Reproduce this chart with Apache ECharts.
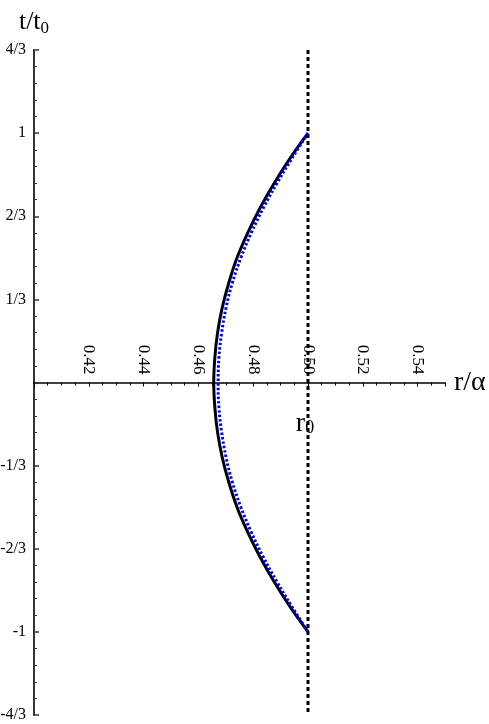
<!DOCTYPE html>
<html>
<head>
<meta charset="utf-8">
<script src="https://cdn.jsdelivr.net/npm/echarts@6/dist/echarts.min.js"></script>
<style>
  html, body { margin: 0; padding: 0; background: #fff; }
  #main { width: 489px; height: 724px; }
</style>
</head>
<body>
<div id="main"></div>
<script>
// t/t0 samples, top to bottom
var tValues = [1.0, 0.9, 0.8, 0.7, 0.6, 0.5, 0.4, 0.3, 0.2, 0.1, 0.0,
               -0.1, -0.2, -0.3, -0.4, -0.5, -0.6, -0.7, -0.8, -0.9, -1.0];
// r/alpha, black solid curve
var rSolid = [0.5000, 0.4935, 0.4877, 0.4825, 0.4780, 0.4741, 0.4711, 0.4687, 0.4670, 0.4660, 0.4656,
              0.4660, 0.4670, 0.4687, 0.4711, 0.4741, 0.4780, 0.4825, 0.4877, 0.4935, 0.5000];
// r/alpha, blue dotted curve
var rDotted = [0.5000, 0.4942, 0.4887, 0.4837, 0.4793, 0.4755, 0.4724, 0.4701, 0.4685, 0.4675, 0.4672,
               0.4675, 0.4685, 0.4701, 0.4724, 0.4755, 0.4793, 0.4837, 0.4887, 0.4942, 0.5000];
var r0 = 0.50;
var yTickLabels = ['-4/3', '-1', '-2/3', '-1/3', '', '1/3', '2/3', '1', '4/3'];

var font = 'Liberation Serif';
var gridTop = 50, gridBottom = 9, H = 724;
var plotH = H - gridTop - gridBottom;

function pairs(xs, ys) {
  var out = [];
  for (var i = 0; i < xs.length; i++) out.push([xs[i], ys[i]]);
  return out;
}

var chart = echarts.init(document.getElementById('main'));
var option = {
  animation: false,
  grid: { left: 34, right: 44, top: gridTop, bottom: gridBottom, containLabel: false, outerBoundsMode: 'none' },
  xAxis: {
    type: 'value',
    min: 0.40, max: 0.55, interval: 0.02,
    offset: -plotH / 2,   // x axis crosses at t = 0 (middle of the plot)
    name: 'r/\u03b1',
    nameLocation: 'end',
    nameGap: 9,
    nameTextStyle: { fontFamily: font, fontSize: 28, color: '#000', verticalAlign: 'middle' },
    axisLine: { onZero: false, lineStyle: { color: '#000', width: 1.5 } },
    axisTick: { show: true, inside: false, length: 4, lineStyle: { color: '#000', width: 1 } },
    minorTick: { show: true, splitNumber: 4, length: 3, lineStyle: { color: '#000', width: 1 } },
    axisLabel: {
      inside: true, rotate: -90, margin: 8,
      fontFamily: font, fontSize: 17, color: '#000',
      formatter: function (v) { return (v < 0.41 || v > 0.545) ? '' : v.toFixed(2); }
    },
    splitLine: { show: false }
  },
  yAxis: {
    type: 'value',
    min: -4 / 3, max: 4 / 3, interval: 1 / 3,
    name: 't/t{sub|0}',
    nameLocation: 'end',
    nameGap: 13,
    nameTextStyle: {
      fontFamily: font, fontSize: 26, color: '#000',
      rich: { sub: { fontFamily: font, fontSize: 17, color: '#000', verticalAlign: 'bottom', padding: [12, 0, 0, 0] } }
    },
    axisLine: { lineStyle: { color: '#333', width: 2 } },
    axisTick: { show: true, inside: true, length: 5, lineStyle: { color: '#333', width: 1.5 } },
    minorTick: { show: true, splitNumber: 5, length: 3, lineStyle: { color: '#333', width: 1 } },
    axisLabel: {
      margin: 8, fontFamily: font, fontSize: 16, color: '#000',
      formatter: function (v) { return yTickLabels[Math.round(v * 3) + 4] || ''; }
    },
    splitLine: { show: false }
  },
  series: [
    {
      type: 'line',
      data: [[r0, 4 / 3], [r0, -4 / 3]],
      showSymbol: false,
      lineStyle: { color: '#000', width: 3, type: [4, 3] },
      z: 2
    },
    {
      type: 'line',
      data: pairs(rSolid, tValues),
      smooth: 0.4,
      showSymbol: false,
      lineStyle: { color: '#000', width: 3 },
      z: 3
    },
    {
      type: 'line',
      data: pairs(rDotted, tValues),
      smooth: 0.4,
      showSymbol: false,
      lineStyle: { color: '#0000ff', width: 3, type: [2.5, 2] },
      z: 4
    }
  ]
};
chart.setOption(option);

// r0 label under the axis, at the r0 line
var p = chart.convertToPixel({ gridIndex: 0 }, [r0, 0]);
chart.setOption({
  graphic: [{
    type: 'text',
    x: p[0] - 3, y: p[1] + 55,
    style: {
      text: 'r{sub|0}',
      font: '28px "Liberation Serif"',
      fill: '#000',
      align: 'center', verticalAlign: 'bottom',
      rich: { sub: { fontSize: 18, fontFamily: font, fill: '#000', padding: [10, 0, 0, 0], verticalAlign: 'bottom' } }
    }
  }]
});
</script>
</body>
</html>
